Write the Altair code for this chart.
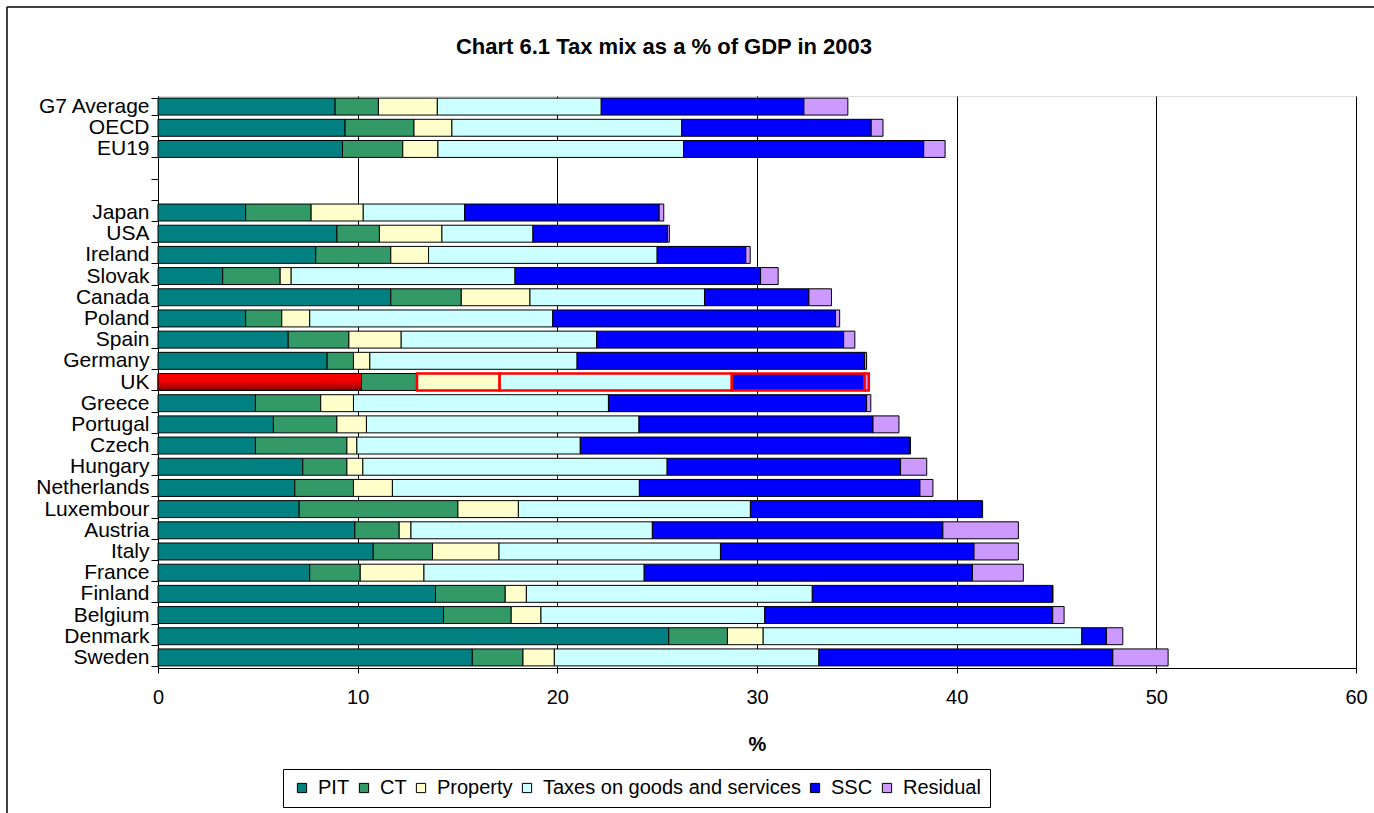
import altair as alt
import pandas as pd

# Countries in display order (top to bottom); two blank rows separate the averages
averages = ["G7 Average", "OECD", "EU19"]
spacers = ["\u00a0", "\u00a0\u00a0"]
nations = ["Japan", "USA", "Ireland", "Slovak", "Canada", "Poland", "Spain\u00a0",
           "Germany", "UK", "Greece", "Portugal\u00a0", "Czech", "Hungary",
           "Netherlands", "Luxembour", "Austria", "Italy", "France", "Finland",
           "Belgium", "Denmark", "Sweden"]
countries = averages + nations
rows = averages + spacers + nations

# Tax components, % of GDP (same order as `countries`)
pit = [8.87, 9.37, 9.24,
       4.39, 8.96, 7.90, 3.24, 11.66, 4.39, 6.52, 8.47, 10.19, 4.88, 5.78, 4.88,
       7.25, 6.85, 7.07, 9.86, 10.78, 7.60, 13.90, 14.30, 25.58, 15.74]
ct = [2.17, 3.45, 3.02,
      3.28, 2.13, 3.76, 2.88, 3.53, 1.81, 3.04, 1.32, 2.78, 3.27, 3.18, 4.58,
      2.21, 2.94, 7.95, 2.22, 2.97, 2.53, 3.49, 3.39, 2.94, 2.54]
prop = [2.95, 1.90, 1.76,
        2.61, 3.13, 1.89, 0.55, 3.44, 1.40, 2.62, 0.82, 4.14, 1.64, 1.48, 0.50,
        0.80, 1.95, 3.03, 0.59, 3.33, 3.19, 1.06, 1.49, 1.79, 1.57]
goods = [8.21, 11.51, 12.30,
         5.08, 4.56, 11.45, 11.21, 8.74, 12.17, 9.79, 10.38, 11.63, 12.77, 13.65, 11.19,
         15.24, 12.37, 11.62, 12.09, 11.09, 11.03, 14.32, 11.21, 15.96, 13.25]
ssc = [10.15, 9.49, 12.03,
       9.74, 6.73, 4.44, 12.30, 5.23, 14.16, 12.37, 14.40, 6.65, 12.93, 11.72, 16.48,
       11.69, 14.05, 11.58, 14.55, 12.70, 16.44, 12.04, 14.42, 1.23, 14.72]
resid = [2.20, 0.59, 1.07,
         0.23, 0.10, 0.22, 0.88, 1.13, 0.21, 0.56, 0.10, 0.21, 0.21, 1.30, 0.06,
         1.31, 0.65, 0.05, 3.78, 2.22, 2.55, 0.00, 0.57, 0.82, 2.77]

series_names = ["PIT", "CT", "Property", "Taxes on goods and services", "SSC", "Residual"]
series_colors = ["#008080", "#339966", "#FFFFCC", "#CCFFFF", "#0000FF", "#CC99FF"]
series_values = [pit, ct, prop, goods, ssc, resid]

highlight = "UK"
outlined = {"Property", "Taxes on goods and services", "SSC", "Residual"}

records = []
for k, (name, vals) in enumerate(zip(series_names, series_values)):
    for c, v in zip(countries, vals):
        records.append({
            "country": c, "series": name, "value": v, "k": k,
            "hl": 1 if (c == highlight and name in outlined) else 0,
        })
df = pd.DataFrame(records)

FONT = "Liberation Sans"

x_enc = alt.X(
    "value:Q", stack="zero",
    scale=alt.Scale(domain=[0, 60], nice=False),
    axis=alt.Axis(values=list(range(0, 61, 10)), title="%", grid=True,
                  gridColor="#000000", gridWidth=1, tickSize=5, tickColor="#000000",
                  domainColor="#000000", labelFont=FONT, labelFontSize=20,
                  labelColor="#000000", labelPadding=14, titleFont=FONT,
                  titleFontSize=20, titleFontWeight="bold", titleColor="#000000",
                  titlePadding=27, labelFlush=False),
)
y_enc = alt.Y(
    "country:N", sort=rows,
    scale=alt.Scale(domain=rows, paddingInner=0.2, paddingOuter=0.1),
    axis=alt.Axis(title=None, tickBand="extent", tickSize=7, tickColor="#000000",
                  domainColor="#000000", labelFont=FONT, labelFontSize=21,
                  labelColor="#000000", labelPadding=2, grid=False, labelLimit=0),
)

bars = alt.Chart(df).mark_bar().encode(
    x=x_enc,
    y=y_enc,
    color=alt.Color(
        "series:N",
        scale=alt.Scale(domain=series_names, range=series_colors),
        legend=alt.Legend(
            title=None, orient="none", direction="horizontal",
            legendX=125, legendY=673, strokeColor="#000000", fillColor="#ffffff",
            padding=9, symbolType="square", symbolSize=85,
            symbolStrokeColor="#000000", symbolStrokeWidth=1,
            labelFont=FONT, labelFontSize=20, labelColor="#000000",
            labelOffset=6, columnPadding=4, labelLimit=0,
        ),
    ),
    order=alt.Order("k:Q", sort="ascending"),
    stroke=alt.condition("datum.hl == 1", alt.value("#ff0000"), alt.value("#000000")),
    strokeWidth=alt.condition("datum.hl == 1", alt.value(2.5), alt.value(1)),
)

# Highlighted country's PIT segment drawn with a red gradient
uk_pit = alt.Chart(df).transform_filter(
    f"datum.country == '{highlight}' && datum.series == 'PIT'"
).mark_bar(
    color=alt.Gradient(
        gradient="linear", x1=0, x2=0, y1=0, y2=1,
        stops=[alt.GradientStop(color="#ff0000", offset=0),
               alt.GradientStop(color="#ee0000", offset=0.5),
               alt.GradientStop(color="#800000", offset=1)],
    ),
    stroke="#000000", strokeWidth=1,
).encode(x=x_enc, y=y_enc)

# Outer chart border (left and top edges)
frame_df = pd.DataFrame({"f": [0]})
frame_left = alt.Chart(frame_df).mark_rule(color="#000000", strokeWidth=1.5).encode(
    x=alt.value(-151), y=alt.value(-89), y2=alt.value(717))
frame_top = alt.Chart(frame_df).mark_rule(color="#000000", strokeWidth=1.5).encode(
    x=alt.value(-151), x2=alt.value(1216), y=alt.value(-89))

chart = alt.layer(bars, uk_pit, frame_left, frame_top).properties(
    width=1198, height=572,
    title=alt.TitleParams(
        "Chart 6.1 Tax mix as a % of GDP in 2003",
        font=FONT, fontSize=22, fontWeight="bold", color="#000000",
        anchor="middle", frame="group", dx=-93, offset=-53,
    ),
    autosize=alt.AutoSizeParams(type="none"),
    padding={"left": 158, "top": 96, "right": 18, "bottom": 145},
).configure_view(
    stroke="#8c8c8c", strokeWidth=2,
).configure(background="#ffffff")

chart.save("out.html", embed_options={"renderer": "svg", "actions": False})
